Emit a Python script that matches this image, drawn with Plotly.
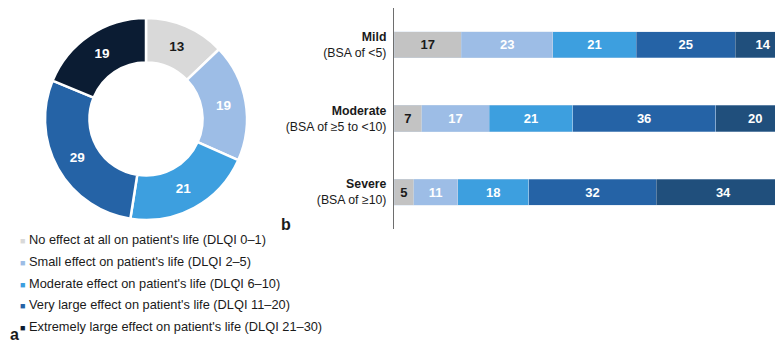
import plotly.graph_objects as go

# ---- data ----
dlqi_labels = [
    "No effect at all on patient's life (DLQI 0\u20131)",
    "Small effect on patient's life (DLQI 2\u20135)",
    "Moderate effect on patient's life (DLQI 6\u201310)",
    "Very large effect on patient's life (DLQI 11\u201320)",
    "Extremely large effect on patient's life (DLQI 21\u201330)",
]
overall_values = [13, 19, 21, 29, 19]

severity_names = ["Mild", "Moderate", "Severe"]
severity_sub = ["(BSA of &lt;5)", "(BSA of \u22655 to &lt;10)", "(BSA of \u226510)"]
no_effect = [17, 7, 5]
small_effect = [23, 17, 11]
moderate_effect = [21, 21, 18]
very_large_effect = [25, 36, 32]
extremely_large_effect = [14, 20, 34]

# ---- styles ----
pie_colors = ["#d9d9d9", "#9dbde6", "#3d9fdf", "#2563a6", "#0b1c33"]
bar_colors = ["#c3c3c3", "#9dbde6", "#3d9fdf", "#2563a6", "#204f7c"]
pie_text_colors = ["#1a1a1a", "white", "white", "white", "white"]
bar_text_colors = ["#1a1a1a", "white", "white", "white", "white"]
FONT = "Liberation Sans, Arial, sans-serif"

W, H = 783, 343

fig = go.Figure()

fig.add_trace(go.Pie(
    values=overall_values,
    labels=dlqi_labels,
    hole=0.56,
    sort=False,
    direction="clockwise",
    rotation=0,
    marker=dict(colors=pie_colors, line=dict(color="white", width=2.5)),
    texttemplate="<b>%{value}</b>",
    textposition="inside",
    insidetextorientation="horizontal",
    textfont=dict(family=FONT, size=13.5, color=pie_text_colors),
    domain=dict(x=[37 / W, 239 / W], y=[(H - 212) / H, (H - 10) / H]),
    showlegend=False,
))

ycats = ["<b>%s</b><br>%s" % (n, s) for n, s in zip(severity_names, severity_sub)]
series = [no_effect, small_effect, moderate_effect, very_large_effect, extremely_large_effect]
for i, vals in enumerate(series):
    fig.add_trace(go.Bar(
        x=vals,
        y=ycats,
        orientation="h",
        marker=dict(color=bar_colors[i], line=dict(color="rgba(200,215,235,0.6)", width=0.6)),
        text=["<b>%d</b>" % v for v in vals],
        textposition="inside",
        insidetextanchor="middle",
        textangle=0,
        textfont=dict(family=FONT, size=13, color=bar_text_colors[i]),
        showlegend=False,
        xaxis="x", yaxis="y",
    ))

fig.update_layout(
    width=W, height=H,
    margin=dict(l=0, r=0, t=0, b=0),
    paper_bgcolor="white",
    plot_bgcolor="white",
    barmode="stack",
    bargap=0.645,
    font=dict(family=FONT, size=12, color="#1a1a1a"),
    xaxis=dict(domain=[386 / W, 1], range=[0, 100], visible=False, fixedrange=True),
    yaxis=dict(
        domain=[(H - 221) / H, 1],
        categoryorder="array", categoryarray=ycats,
        autorange="reversed",
        showline=True, linecolor="#6e6e6e", linewidth=1.2,
        ticks="", ticklabelstandoff=4,
        showgrid=False, zeroline=False,
        tickfont=dict(family=FONT, size=12.3, color="#1a1a1a"),
    ),
)

# manual legend
legend_y = [232, 253.5, 275, 296.5, 318]
for lab, col, yy in zip(dlqi_labels, pie_colors, legend_y):
    fig.add_annotation(
        x=10 / W, y=1 - yy / H, xref="paper", yref="paper",
        xanchor="left", yanchor="middle", showarrow=False,
        text="<span style='color:%s;font-size:9px'>\u25a0</span> %s" % (col, lab),
        font=dict(family=FONT, size=12.8, color="#1a1a1a"),
    )

fig.add_annotation(x=0, y=1 - 337 / H, xref="paper", yref="paper",
                   xanchor="left", yanchor="bottom", showarrow=False,
                   text="<b>a</b>", font=dict(family=FONT, size=16, color="#1a1a1a"))
fig.add_annotation(x=271 / W, y=1 - 216 / H, xref="paper", yref="paper",
                   xanchor="left", yanchor="middle", showarrow=False,
                   text="<b>b</b>", font=dict(family=FONT, size=16, color="#1a1a1a"))

fig.write_html("out.html")
